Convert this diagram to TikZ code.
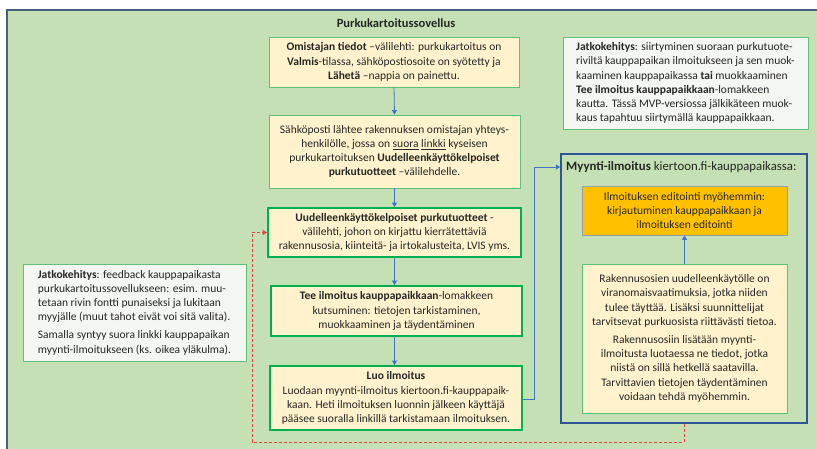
\documentclass[tikz,border=0pt]{standalone}
\usepackage{fontspec}
\setmainfont{Carlito}
\usetikzlibrary{arrows.meta}
\definecolor{bggreen}{HTML}{C5E0B4}
\definecolor{frameedge}{HTML}{44617B}
\definecolor{boxfill}{HTML}{FFF2CC}
\definecolor{thinedge}{HTML}{5CC27A}
\definecolor{thickedge}{HTML}{00B050}
\definecolor{arrowblue}{HTML}{4472C4}
\definecolor{darkblue}{HTML}{2F5597}
\definecolor{gold}{HTML}{FFC000}
\definecolor{goldedge}{HTML}{8FA0B0}
\definecolor{notefill}{HTML}{F4F6F2}
\definecolor{dashred}{HTML}{E0483E}
\definecolor{txt}{HTML}{262626}
\tikzset{
  base/.style={text=txt, inner sep=1pt, font=\fontsize{11.5}{14.2}\selectfont},
  thinbox/.style={base, draw=thinedge, line width=0.9pt, fill=boxfill, align=center},
  thickbox/.style={base, draw=thickedge, line width=1.8pt, fill=boxfill, align=center},
  goldbox/.style={base, draw=goldedge, line width=0.8pt, fill=gold, align=center},
  notebox/.style={base, draw=thinedge, line width=0.9pt, fill=notefill, align=left},
  flow/.style={draw=arrowblue, line width=0.8pt, -{Triangle[width=5pt,length=4.5pt]}},
  back/.style={draw=dashred, line width=0.8pt, dashed, dash pattern=on 3pt off 2pt, -{Triangle[width=5pt,length=4.5pt]}}
}
\begin{document}
\begin{tikzpicture}[x=1pt,y=-1pt]
\useasboundingbox (0,0) rectangle (817,449);
\fill[white] (0,0) rectangle (817,449);
\fill[bggreen] (7,10) rectangle (820,452);
\draw[frameedge, line width=1.6pt] (7,452) -- (7,10) -- (820,10);

\node[base, font=\fontsize{12.5}{14}\selectfont\bfseries] (title) at (396,23) {Purkukartoitussovellus};

\node[thinbox, minimum width=250pt, minimum height=50pt] (b1) at (394,62)
 {\textbf{Omistajan tiedot} –välilehti: purkukartoitus on\\
  \textbf{Valmis}-tilassa, sähköpostiosoite on syötetty ja\\
  \textbf{Lähetä} –nappia on painettu.};

\node[thinbox, minimum width=251pt, minimum height=73pt] (b2) at (394.5,151.5)
 {Sähköposti lähtee rakennuksen omistajan yhteys-\\
  henkilölle, jossa on \underline{suora} \underline{linkki} kyseisen\\
  purkukartoituksen \textbf{Uudelleenkäyttökelpoiset}\\
  \textbf{purkutuotteet} –välilehdelle.};

\node[thickbox, minimum width=253pt, minimum height=49pt] (b3) at (394.5,232.5)
 {\textbf{Uudelleenkäyttökelpoiset purkutuotteet} -\\
  välilehti, johon on kirjattu kierrätettäviä\\
  rakennusosia, kiinteitä- ja irtokalusteita, LVIS yms.};

\node[thickbox, minimum width=251pt, minimum height=50pt] (b4) at (396.5,311)
 {\textbf{Tee ilmoitus kauppapaikkaan}-lomakkeen\\
  kutsuminen: tietojen tarkistaminen,\\
  muokkaaminen ja täydentäminen};

\node[thickbox, minimum width=252pt, minimum height=64pt] (b5) at (396,398)
 {\textbf{Luo ilmoitus}\\
  Luodaan myynti-ilmoitus kiertoon.fi-kauppapaik-\\
  kaan. Heti ilmoituksen luonnin jälkeen käyttäjä\\
  pääsee suoralla linkillä tarkistamaan ilmoituksen.};

\node[notebox, minimum width=245pt, minimum height=92pt] (n1) at (685.5,83)
 {\textbf{Jatkokehitys}: siirtyminen suoraan purkutuote-\\
  riviltä kauppapaikan ilmoitukseen ja sen muok-\\
  kaaminen kauppapaikassa \textbf{tai} muokkaaminen\\
  \textbf{Tee ilmoitus kauppapaikkaan}-lomakkeen\\
  kautta. Tässä MVP-versiossa jälkikäteen muok-\\
  kaus tapahtuu siirtymällä kauppapaikkaan.};

\node[notebox, minimum width=223pt, minimum height=97pt] (n2) at (134.5,312.5)
 {\textbf{Jatkokehitys}: feedback kauppapaikasta\\
  purkukartoitussovellukseen: esim. muu-\\
  tetaan rivin fontti punaiseksi ja lukitaan\\
  myyjälle (muut tahot eivät voi sitä valita).\\[4pt]
  Samalla syntyy suora linkki kauppapaikan\\
  myynti-ilmoitukseen (ks. oikea yläkulma).};

\node[draw=darkblue, line width=1.4pt, minimum width=246pt, minimum height=269pt] (frame) at (684,288.5) {};
\node[base, anchor=west, font=\fontsize{12.8}{14}\selectfont] (ftitle) at (565,167)
 {\textbf{Myynti-ilmoitus} kiertoon.fi-kauppapaikassa:};

\node[goldbox, minimum width=205pt, minimum height=49pt] (g1) at (684.5,210.5)
 {Ilmoituksen editointi myöhemmin:\\
  kirjautuminen kauppapaikkaan ja\\
  ilmoituksen editointi};

\node[thinbox, minimum width=205pt, minimum height=149pt] (m1) at (684.5,338.5)
 {Rakennusosien uudelleenkäytölle on\\
  viranomaisvaatimuksia, jotka niiden\\
  tulee täyttää. Lisäksi suunnittelijat\\
  tarvitsevat purkuosista riittävästi tietoa.\\[4pt]
  Rakennusosiin lisätään myynti-\\
  ilmoitusta luotaessa ne tiedot, jotka\\
  niistä on sillä hetkellä saatavilla.\\
  Tarvittavien tietojen täydentäminen\\
  voidaan tehdä myöhemmin.};

\coordinate (c1) at (534,399);
\coordinate (c2) at (534,167);
\coordinate (r1) at (684,442);
\coordinate (r2) at (252,442);
\coordinate (r3) at (252,232.5);

\draw[flow] (b1.south) -- (b2.north);
\draw[flow] (b2.south) -- (b3.north);
\draw[flow] (b3.south) -- (b4.north -| b3.south);
\draw[flow] (b4.south -| b3.south) -- (b5.north -| b3.south);
\draw[flow] (m1.north) -- (g1.south);
\draw[arrowblue, line width=0.8pt] (b5.east |- c1) -- (c1) -- (c2);
\draw[flow] (c2) -- (frame.west |- c2);
\draw[back] (frame.south -| r1) -- (r1) -- (r2) -- (r3) -- (b3.west);
\end{tikzpicture}
\end{document}
